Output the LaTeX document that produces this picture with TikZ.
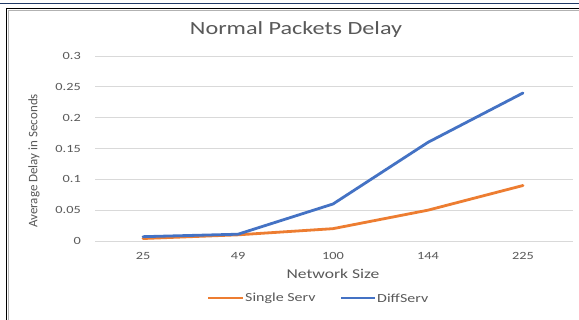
\documentclass[tikz,border=0pt]{standalone}
\usepackage{fontspec}
\setmainfont{Carlito}
\definecolor{txtgray}{HTML}{595959}
\definecolor{gridgray}{HTML}{D9D9D9}
\definecolor{serorange}{HTML}{ED7D31}
\definecolor{serblue}{HTML}{4472C4}
\definecolor{rulblue}{HTML}{1F3864}
\newcommand{\wide}[1]{\scalebox{1.3}[1]{#1}}
\begin{document}
\begin{tikzpicture}[x=1pt,y=-1pt,
  ticklab/.style={text=txtgray,font=\fontsize{11}{13}\selectfont,inner sep=0pt},
  leglab/.style={text=txtgray,font=\fontsize{12.3}{14}\selectfont,inner sep=0pt},
  gridln/.style={gridgray,line width=0.9pt},
  serline/.style={line width=2.8pt,line join=round,line cap=round}]
\useasboundingbox (0,0) rectangle (579,320);
\fill[white] (0,0) rectangle (579,320);
% page rule and chart frame
\draw[rulblue,line width=1pt] (0,3.5) -- (579,3.5);
\draw[black,line width=1.8pt] (6.5,320) -- (6.5,8.5) -- (579,8.5);
\draw[gray!60,line width=0.6pt] (8,320) -- (8,10) -- (579,10);
% title
\node[text=txtgray,font=\fontsize{18.6}{22}\selectfont,inner sep=0pt] (title) at (296,30) {\wide{Normal Packets Delay}};
% grid and y labels
\foreach \v/\lab [count=\i] in {0/0,0.05/0.05,0.1/0.1,0.15/0.15,0.2/0.2,0.25/0.25,0.3/0.3}{
  \pgfmathsetmacro{\yy}{241-616.7*\v}
  \draw[gridln] (95,\yy) -- (573,\yy);
  \node[ticklab,anchor=east] (yl\i) at (81,\yy) {\wide{\lab}};
}
% x labels
\foreach \n/\xx [count=\i] in {25/143,49/238,100/333,144/428,225/523}{
  \node[ticklab,anchor=base] (xl\i) at (\xx,260) {\wide{\n}};
}
\node[text=txtgray,font=\fontsize{13.5}{16}\selectfont,inner sep=0pt] (xt) at (333,274) {\wide{Network Size}};
\node[text=txtgray,font=\fontsize{13}{15}\selectfont,inner sep=0pt,rotate=90] (yt) at (34,161) {Average Delay in Seconds};
% data
\foreach \xx/\a/\b [count=\i] in {143/0.004/0.007,238/0.01/0.011,333/0.02/0.06,428/0.05/0.16,523/0.09/0.24}{
  \coordinate (s\i) at (\xx,{241-616.7*\a});
  \coordinate (d\i) at (\xx,{241-616.7*\b});
}
\draw[serline,serorange] (s1) -- (s2) -- (s3) -- (s4) -- (s5);
\draw[serline,serblue] (d1) -- (d2) -- (d3) -- (d4) -- (d5);
% legend
\coordinate (la1) at (208,298); \coordinate (la2) at (243,298);
\coordinate (lb1) at (341,298); \coordinate (lb2) at (375,298);
\draw[serorange,line width=2.8pt] (la1) -- (la2);
\draw[serblue,line width=2.8pt] (lb1) -- (lb2);
\node[leglab,anchor=west] (lga) at (245,298) {\wide{Single Serv}};
\node[leglab,anchor=west] (lgb) at (377,298) {\wide{DiffServ}};
\end{tikzpicture}
\end{document}
